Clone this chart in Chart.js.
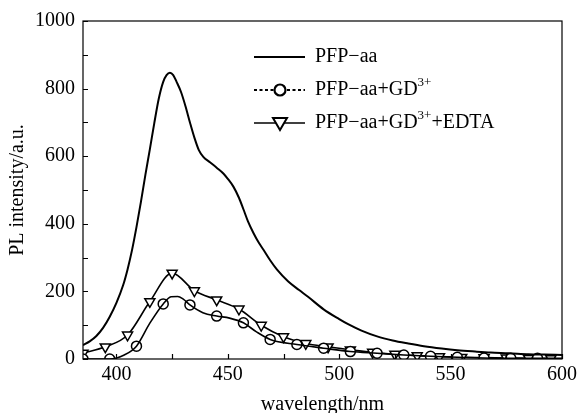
<!DOCTYPE html>
<html>
<head>
<meta charset="utf-8">
<script src="https://cdn.jsdelivr.net/npm/chart.js@4/dist/chart.umd.min.js"></script>
<style>
  html, body { margin: 0; padding: 0; background: #fff; }
  #wrap { width: 579px; height: 413px; }
</style>
</head>
<body>
<div id="wrap"><canvas id="pl_chart" width="579" height="413"></canvas></div>
<script>
// PFP-aa spectrum
var pfpWavelength = [385, 388, 391, 394, 397, 400, 403, 405, 407, 409, 411, 413, 415, 417, 419, 421, 422.5, 424, 425.5, 427, 429, 431, 433, 435, 437, 439, 442, 445, 448, 450, 452.5, 455, 457, 459, 461.5, 464, 466, 469, 472, 477, 482, 486, 493, 500, 504, 510, 517, 524, 531, 538, 546, 553, 561, 568, 576, 585, 592, 600];
var pfpIntensity  = [41, 52, 68, 92, 125, 166, 218, 265, 322, 390, 465, 545, 620, 698, 770, 820, 840, 847, 840, 820, 790, 748, 700, 655, 618, 598, 582, 566, 549, 533, 510, 477, 443, 408, 373, 343, 323, 292, 265, 230, 204, 184, 147, 118, 103, 84, 67, 55, 46, 38, 31, 26, 22, 19, 17, 14, 13, 12];

// PFP-aa+GD3+ : smooth line and the circle markers on it
var gdLineWavelength = [385, 397, 403.5, 409, 415, 421, 424.5, 427.5, 430, 433, 438.8, 445, 450.8, 457, 462.7, 469, 481, 493, 505, 517, 529, 541, 553, 565, 577, 589, 600];
var gdLineIntensity  = [0, 0, 12, 38, 106, 163, 184, 185, 177, 160, 137, 127, 121, 107, 81, 58, 43, 32, 22, 17, 12, 8, 5, 3, 2, 2, 2];
var gdMarkerWavelength = [385, 397, 409, 421, 433, 445, 457, 469, 481, 493, 505, 517, 529, 541, 553, 565, 577, 589];
var gdMarkerIntensity  = [0, 0, 38, 163, 160, 127, 107, 58, 43, 32, 22, 17, 12, 8, 5, 3, 2, 2];

// PFP-aa+GD3++EDTA : triangle markers
var edtaWavelength = [385, 395, 405, 415, 425, 435, 445, 455, 465, 475, 485, 495, 505, 515, 525, 535, 545, 555, 565, 575, 585, 595];
var edtaIntensity  = [17, 36, 71, 170, 254, 202, 175, 148, 100, 66, 46, 36, 27, 20, 14, 10, 7, 5, 4, 3, 2, 1];

// axis ticks
var xTickValues = [400, 450, 500, 550, 600];
var xMinorTicks = [425, 475, 525, 575];
var yTickValues = [0, 200, 400, 600, 800, 1000];
var yMinorTicks = [100, 300, 500, 700, 900];

var serif = '"Liberation Serif", "DejaVu Serif", serif';

function toPoints(xs, ys) {
  return xs.map(function (x, i) { return { x: x, y: ys[i] }; });
}

// frame, inward ticks and the legend with line+marker samples
var frameAndLegend = {
  id: 'frameAndLegend',
  afterDatasetsDraw: function (chart) {
    var ctx = chart.ctx;
    var a = chart.chartArea;
    var xs = chart.scales.x, ys = chart.scales.y;
    ctx.save();
    ctx.strokeStyle = '#000';
    ctx.lineWidth = 1.2;
    ctx.strokeRect(a.left, a.top, a.right - a.left, a.bottom - a.top);

    var tick = 5;
    ctx.beginPath();
    xTickValues.concat(xMinorTicks).forEach(function (v) {
      var px = Math.round(xs.getPixelForValue(v)) + 0.5;
      ctx.moveTo(px, a.bottom);
      ctx.lineTo(px, a.bottom - tick);
    });
    yTickValues.concat(yMinorTicks).forEach(function (v) {
      var py = Math.round(ys.getPixelForValue(v)) + 0.5;
      ctx.moveTo(a.left, py);
      ctx.lineTo(a.left + tick, py);
    });
    ctx.stroke();

    // legend
    var lx0 = 254, lx1 = 305, mx = 280, tx = 315;
    var rows = [57, 90, 123];
    ctx.lineWidth = 2;
    ctx.beginPath();
    ctx.moveTo(lx0, rows[0]); ctx.lineTo(lx1, rows[0]);
    ctx.stroke();

    ctx.setLineDash([3, 2.5]);
    ctx.beginPath();
    ctx.moveTo(lx0, rows[1]); ctx.lineTo(lx1, rows[1]);
    ctx.stroke();
    ctx.setLineDash([]);
    ctx.fillStyle = '#fff';
    ctx.lineWidth = 2.2;
    ctx.beginPath();
    ctx.arc(mx, rows[1], 5.5, 0, Math.PI * 2);
    ctx.fill(); ctx.stroke();

    ctx.lineWidth = 1.6;
    ctx.beginPath();
    ctx.moveTo(lx0, rows[2]); ctx.lineTo(lx1, rows[2]);
    ctx.stroke();
    ctx.lineWidth = 2;
    ctx.beginPath();
    ctx.moveTo(mx - 7, rows[2] - 5);
    ctx.lineTo(mx + 7, rows[2] - 5);
    ctx.lineTo(mx, rows[2] + 7);
    ctx.closePath();
    ctx.fill(); ctx.stroke();

    ctx.fillStyle = '#000';
    ctx.textBaseline = 'middle';
    ctx.textAlign = 'left';
    var big = '20px ' + serif, small = '13px ' + serif;
    ctx.font = big;
    ctx.fillText('PFP\u2212aa', tx, rows[0]);

    var base = 'PFP\u2212aa+GD';
    ctx.fillText(base, tx, rows[1]);
    var w = ctx.measureText(base).width;
    ctx.font = small;
    ctx.fillText('3+', tx + w, rows[1] - 7);

    ctx.font = big;
    ctx.fillText(base, tx, rows[2]);
    ctx.font = small;
    ctx.fillText('3+', tx + w, rows[2] - 7);
    var w2 = ctx.measureText('3+').width;
    ctx.font = big;
    ctx.fillText('+EDTA', tx + w + w2, rows[2]);
    ctx.restore();
  }
};

var ctx = document.getElementById('pl_chart').getContext('2d');
var plChart = new Chart(ctx, {
  type: 'line',
  data: {
    datasets: [
      {
        label: 'PFP\u2212aa',
        data: toPoints(pfpWavelength, pfpIntensity),
        borderColor: '#000',
        borderWidth: 2,
        pointRadius: 0,
        cubicInterpolationMode: 'monotone',
        fill: false
      },
      {
        label: 'PFP\u2212aa+GD3+ line',
        data: toPoints(gdLineWavelength, gdLineIntensity),
        borderColor: '#000',
        borderWidth: 1.6,
        pointRadius: 0,
        cubicInterpolationMode: 'monotone',
        fill: false
      },
      {
        label: 'PFP\u2212aa+GD3+',
        data: toPoints(gdMarkerWavelength, gdMarkerIntensity),
        showLine: false,
        pointStyle: 'circle',
        pointRadius: 5,
        pointBorderWidth: 1.5,
        pointBorderColor: '#000',
        pointBackgroundColor: '#fff'
      },
      {
        label: 'PFP\u2212aa+GD3++EDTA',
        data: toPoints(edtaWavelength, edtaIntensity),
        borderColor: '#000',
        borderWidth: 1.6,
        cubicInterpolationMode: 'monotone',
        pointStyle: 'triangle',
        rotation: 180,
        pointRadius: 5.8,
        pointBorderWidth: 1.5,
        pointBorderColor: '#000',
        pointBackgroundColor: '#fff',
        fill: false
      }
    ]
  },
  options: {
    responsive: false,
    animation: false,
    layout: { padding: { top: 21, right: 17, left: 0, bottom: 0 } },
    plugins: { legend: { display: false }, tooltip: { enabled: false } },
    scales: {
      x: {
        type: 'linear',
        min: 385,
        max: 600,
        afterBuildTicks: function (s) { s.ticks = xTickValues.map(function (v) { return { value: v }; }); },
        afterFit: function (s) { s.height = 54; },
        grid: { display: false },
        border: { display: false },
        ticks: { color: '#000', padding: -4, maxRotation: 0, autoSkip: false, font: { family: serif, size: 20 },
                 callback: function (v) { return String(v); } },
        title: { display: true, text: 'wavelength/nm', color: '#000', padding: { top: 0, bottom: -2 }, font: { family: serif, size: 20, lineHeight: 1 } }
      },
      y: {
        min: 0,
        max: 1000,
        afterBuildTicks: function (s) { s.ticks = yTickValues.map(function (v) { return { value: v }; }); },
        afterFit: function (s) { s.width = 83; },
        grid: { display: false },
        border: { display: false },
        ticks: { color: '#000', padding: 0, font: { family: serif, size: 20 },
                 callback: function (v) { return String(v); } },
        title: { display: true, text: 'PL intensity/a.u.', color: '#000', padding: { top: 6, bottom: 0 }, font: { family: serif, size: 20, lineHeight: 1.2 } }
      }
    }
  },
  plugins: [frameAndLegend]
});
</script>
</body>
</html>
